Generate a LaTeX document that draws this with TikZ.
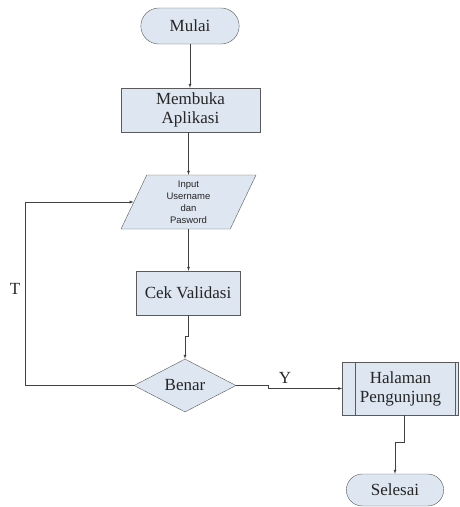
\documentclass[tikz,border=0pt]{standalone}
\usepackage{fontspec}
\setmainfont{Liberation Serif}
\newfontfamily\inputfont{Liberation Sans}
\usetikzlibrary{shapes.geometric,shapes.misc}
\definecolor{boxfill}{RGB}{221,230,241}
\definecolor{boxline}{RGB}{90,90,90}

\begin{document}
\begin{tikzpicture}[
	x=1pt, y=-1pt,
	every node/.style={ font=\fontsize{17}{19}\selectfont, text=black!85 },
	terminal/.style={ rounded rectangle, draw=boxline, fill=boxfill, minimum width=105pt, minimum height=36pt },
	process/.style={ rectangle, draw=boxline, fill=boxfill, align=center, minimum height=44pt },
	io/.style={ trapezium, trapezium left angle=60, trapezium right angle=120, trapezium stretches body, draw=boxline, fill=boxfill, align=center, inner sep=1pt, minimum width=135pt, minimum height=54pt, font=\inputfont\fontsize{9.5}{12}\selectfont },
	decision/.style={ diamond, aspect=1.9, draw=boxline, fill=boxfill, inner sep=0pt, minimum width=102pt, minimum height=53pt },
	flow/.style={ draw=black!75, -latex },
]
\useasboundingbox (0,0) rectangle (459,507);

\node at (190,26) (mulai) [terminal] {Mulai};
\node at (190.5,110) (membuka) [process, minimum width=139pt] {Membuka\\Aplikasi};
\node at (188.5,202) (input) [io] {Input\\Username\\dan\\Pasword};
\node at (188,293) (cek) [process, minimum width=104pt] {Cek Validasi};
\node at (185,385.5) (benar) [decision] {Benar};
\node at (400.5,388.5) (halaman) [process, minimum width=116pt, minimum height=53pt] {Halaman\\Pengunjung};
\draw[boxline] ([xshift=13pt]halaman.north west) -- ([xshift=13pt]halaman.south west);
\draw[boxline] ([xshift=-4pt]halaman.north east) -- ([xshift=-4pt]halaman.south east);
\node at (395,490) (selesai) [terminal, minimum width=104pt, minimum height=32pt] {Selesai};

\node at (15,289) (t) {T};
\node at (285,378) (y) {Y};
\coordinate (tbend) at (25,385.5);

\draw[flow] (mulai.south) -- (mulai.south |- membuka.north);
\draw[flow] (membuka.south -| input.center) -- (input.center |- input.north);
\draw[flow] (input.center |- input.south) -- (cek.north -| input.center);
\draw[flow] (cek.south) -- ++(0,21) -| (benar.north);
\draw[flow] (benar.east) -- ++(32,0) |- (halaman.west);
\draw[flow] ([xshift=4pt]halaman.south) -- ++(0,27) -| (selesai.north);
\draw[flow] (benar.west) -- (tbend) |- (input.west);

\end{tikzpicture}
\end{document}
